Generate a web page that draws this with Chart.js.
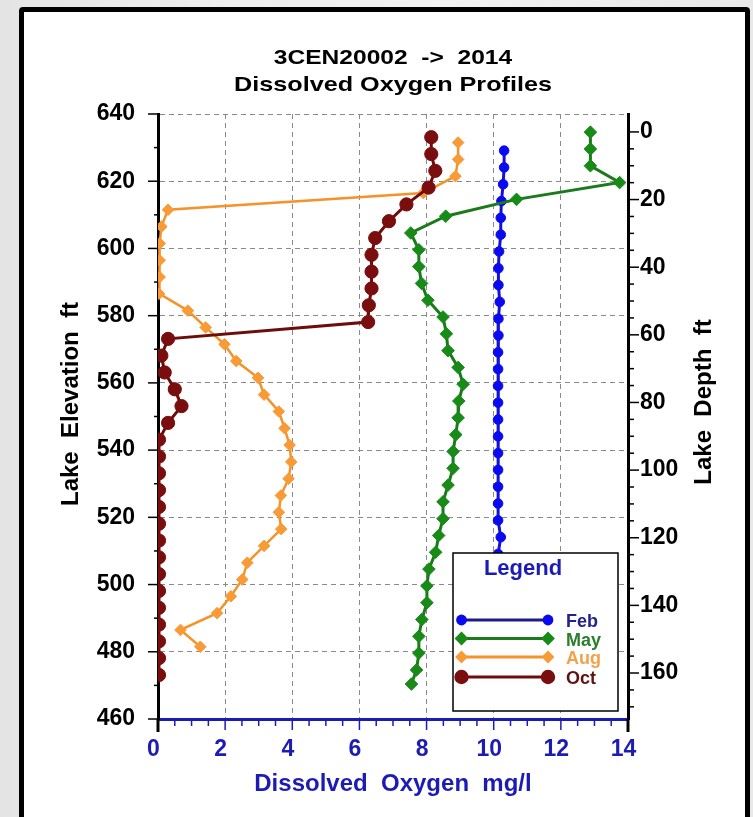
<!DOCTYPE html>
<html>
<head>
<meta charset="utf-8">
<title>Dissolved Oxygen Profiles</title>
<script src="https://cdn.jsdelivr.net/npm/chart.js@4.4.0/dist/chart.umd.min.js"></script>
<style>
  html, body { margin: 0; padding: 0; }
  body { width: 753px; height: 817px; overflow: hidden; position: relative;
         background: linear-gradient(90deg, #e4e4e4, #eeeeee 30%, #f2f2f2 60%, #e8e8e8); }
  #frame { position: absolute; left: 19px; top: 7px; width: 721px; height: 840px;
           border: 5px solid #000; border-radius: 4px; background: #fff; }
  #c { position: absolute; left: 0; top: 0; }
</style>
</head>
<body>
<div id="frame"></div>
<canvas id="c" width="753" height="817"></canvas>
<script>
const FONT = "'Liberation Sans', Arial, sans-serif";
const AXIS_BLUE = "#1c1cb4";

// elevation (ft) and dissolved oxygen (mg/l) for each profile
const febElev = [629.1, 624.1, 619.1, 614.1, 609.1, 604.1, 599.1, 594.1, 589.1, 584.1, 579.1, 574.1,
                 569.1, 564.1, 559.1, 554.1, 549.1, 544.1, 539.1, 534.1, 529.1, 524.1, 519.1, 514.1, 509.1];
const febDO   = [10.31, 10.31, 10.28, 10.23, 10.21, 10.21, 10.16, 10.14, 10.14, 10.18, 10.14, 10.14,
                 10.13, 10.13, 10.13, 10.13, 10.13, 10.13, 10.13, 10.13, 10.13, 10.13, 10.13, 10.21, 10.13];

const mayElev = [634.6, 629.6, 624.6, 619.6, 614.6, 609.6, 604.6, 599.6, 594.6, 589.6, 584.6, 579.6,
                 574.6, 569.6, 564.6, 559.6, 554.6, 549.6, 544.6, 539.6, 534.6, 529.6, 524.6, 519.6,
                 514.6, 509.6, 504.6, 499.6, 494.6, 489.6, 484.6, 479.6, 474.6, 470.4];
const mayDO   = [12.88, 12.88, 12.88, 13.75, 10.68, 8.57, 7.53, 7.77, 7.77, 7.85, 8.04, 8.49,
                 8.59, 8.64, 8.94, 9.09, 8.96, 8.94, 8.87, 8.79, 8.79, 8.64, 8.49, 8.49,
                 8.36, 8.27, 8.07, 8.01, 8.01, 7.86, 7.77, 7.77, 7.70, 7.55];

const augElev = [631.5, 626.5, 621.5, 616.5, 611.5, 606.5, 601.5, 596.5, 591.5, 586.5, 581.5, 576.5,
                 571.5, 566.5, 561.5, 556.5, 551.5, 546.5, 541.5, 536.5, 531.5, 526.5, 521.5, 516.5,
                 511.5, 506.5, 501.5, 496.5, 491.5, 486.5, 481.5];
const augDO   = [8.94, 8.94, 8.86, 7.9, 0.30, 0.10, 0.05, 0.05, 0.05, 0.03, 0.89, 1.42,
                 1.98, 2.33, 2.98, 3.16, 3.60, 3.77, 3.92, 3.97, 3.89, 3.66, 3.60, 3.67,
                 3.16, 2.66, 2.51, 2.17, 1.76, 0.67, 1.26];

const octElev = [633.1, 628.1, 623.1, 618.1, 613.1, 608.1, 603.1, 598.1, 593.1, 588.1, 583.1, 578.1,
                 573.1, 568.1, 563.1, 558.1, 553.1, 548.1, 543.1, 538.1, 533.1, 528.1, 523.1, 518.1,
                 513.1, 508.1, 503.1, 498.1, 493.1, 488.1, 483.1, 478.1, 473.1];
const octDO   = [8.14, 8.14, 8.26, 8.06, 7.40, 6.88, 6.47, 6.36, 6.36, 6.36, 6.28, 6.26,
                 0.30, 0.10, 0.20, 0.50, 0.70, 0.30, 0.03, 0.03, 0.03, 0.03, 0.03, 0.03,
                 0.03, 0.03, 0.03, 0.03, 0.03, 0.03, 0.03, 0.03, 0.03];

const depthLabels = [0, 20, 40, 60, 80, 100, 120, 140, 160];

function pts(xs, ys) {
    return xs.map((v, i) => ({x: v, y: ys[i]}));
}

function line(ctx, x1, y1, x2, y2) {
    ctx.beginPath();
    ctx.moveTo(x1, y1);
    ctx.lineTo(x2, y2);
    ctx.stroke();
}

function marker(ctx, style, r, x, y) {
    ctx.beginPath();
    if (style === 'rectRot') {
        ctx.moveTo(x, y - r); ctx.lineTo(x + r, y); ctx.lineTo(x, y + r); ctx.lineTo(x - r, y);
        ctx.closePath();
    } else {
        ctx.arc(x, y, r, 0, Math.PI * 2);
    }
    ctx.fill();
}

function text(ctx, str, x, y, rot, sx) {
    ctx.save();
    ctx.translate(x, y);
    if (rot) ctx.rotate(rot);
    if (sx) ctx.scale(sx, 1);
    ctx.fillText(str, 0, 0);
    ctx.restore();
}

const decor = {
    id: 'decor',
    afterDatasetsDraw(chart) {
        // legend box sits on top of the plot
        const {ctx, chartArea: a} = chart;
        const bx = a.right - 175, by = a.bottom - 166, bw = 165, bh = 158;
        ctx.save();
        ctx.fillStyle = '#fff';
        ctx.fillRect(bx, by, bw, bh);
        ctx.strokeStyle = '#000';
        ctx.lineWidth = 1.5;
        ctx.strokeRect(bx, by, bw, bh);
        ctx.fillStyle = AXIS_BLUE;
        ctx.font = "bold 22px " + FONT;
        ctx.textAlign = 'center';
        ctx.textBaseline = 'alphabetic';
        ctx.fillText('Legend', bx + 70, by + 22);

        const rows = [67, 85.5, 104, 124];
        const lineColors = ['#1c1c86', '#1b7a1b', '#f5922a', '#6e0c0c'];
        const textColors = ['#22228a', '#2a7d2a', '#f2a24c', '#5e1212'];
        chart.data.datasets.forEach((ds, i) => {
            const y = by + rows[i];
            ctx.strokeStyle = lineColors[i];
            ctx.lineWidth = 3;
            line(ctx, bx + 8.5, y, bx + 95, y);
            ctx.fillStyle = ds.pointBackgroundColor;
            marker(ctx, ds.pointStyle, ds.pointRadius + 0.6, bx + 8.5, y);
            marker(ctx, ds.pointStyle, ds.pointRadius + 0.6, bx + 95, y);
            ctx.fillStyle = textColors[i];
            ctx.font = "bold 18px " + FONT;
            ctx.textAlign = 'left';
            ctx.fillText(ds.label, bx + 113, y + 7);
        });
        ctx.restore();
    },
    afterDraw(chart) {
        const {ctx, chartArea: a, scales} = chart;
        const xs = scales.x, ys = scales.y, ds = scales.depth;
        ctx.save();
        ctx.lineCap = 'butt';

        // axis lines run a little below the x axis
        ctx.strokeStyle = '#000';
        ctx.lineWidth = 3;
        line(ctx, a.left, a.bottom, a.left, a.bottom + 13);
        line(ctx, a.right, a.bottom, a.right, a.bottom + 13);

        // left ticks: major every 20 ft, minor every 10 ft
        ctx.lineWidth = 1.5;
        for (let v = 460; v <= 640; v += 10) {
            const py = ys.getPixelForValue(v);
            line(ctx, a.left - (v % 20 === 0 ? 10 : 4), py, a.left, py);
        }
        // right ticks every 5 ft of depth
        for (let v = 0; v <= 170; v += 5) {
            const py = ds.getPixelForValue(v);
            line(ctx, a.right, py, a.right + (v % 20 === 0 ? 11 : 6), py);
        }
        // bottom ticks every 0.5 mg/l
        ctx.strokeStyle = AXIS_BLUE;
        for (let v = 0.5; v < 14; v += 0.5) {
            const px = xs.getPixelForValue(v);
            line(ctx, px, a.bottom, px, a.bottom + (v % 2 === 0 ? 11 : 7));
        }

        // titles
        const cx = (a.left + a.right) / 2;
        ctx.textAlign = 'center';
        ctx.textBaseline = 'alphabetic';
        ctx.fillStyle = '#000';
        ctx.font = "bold 21px " + FONT;
        text(ctx, '3CEN20002  ->  2014', cx, 64, 0, 1.17);
        text(ctx, 'Dissolved Oxygen Profiles', cx, 91, 0, 1.2);

        ctx.font = "bold 24px " + FONT;
        text(ctx, 'Lake  Elevation  ft', 78, 404, -Math.PI / 2);
        text(ctx, 'Lake  Depth  ft', 711, 402, -Math.PI / 2);
        ctx.fillStyle = AXIS_BLUE;
        text(ctx, 'Dissolved  Oxygen  mg/l', cx, 791, 0);
        ctx.restore();
    }
};

const tickFont = {family: FONT, size: 23, weight: 'bold'};
const gridStyle = {color: '#8a8a8a', lineWidth: 1, drawTicks: false};

new Chart(document.getElementById('c'), {
    type: 'scatter',
    data: {
        datasets: [
            {label: 'Feb', data: pts(febDO, febElev), showLine: true, order: 4,
             borderColor: '#1414d0', borderWidth: 3, pointStyle: 'circle', pointRadius: 4.8,
             pointBackgroundColor: '#0a0af0', pointBorderColor: '#0a0af0', pointBorderWidth: 1},
            {label: 'May', data: pts(mayDO, mayElev), showLine: true, order: 3,
             borderColor: '#1b7a1b', borderWidth: 3, pointStyle: 'rectRot', pointRadius: 6.3,
             pointBackgroundColor: '#178a17', pointBorderColor: '#178a17', pointBorderWidth: 1},
            {label: 'Aug', data: pts(augDO, augElev), showLine: true, order: 2,
             borderColor: '#f5922a', borderWidth: 2.5, pointStyle: 'rectRot', pointRadius: 5.8,
             pointBackgroundColor: '#f89a35', pointBorderColor: '#f89a35', pointBorderWidth: 1},
            {label: 'Oct', data: pts(octDO, octElev), showLine: true, order: 1,
             borderColor: '#6e0c0c', borderWidth: 3, pointStyle: 'circle', pointRadius: 6.6,
             pointBackgroundColor: '#7a0d0d', pointBorderColor: '#7a0d0d', pointBorderWidth: 1}
        ]
    },
    options: {
        responsive: false,
        animation: false,
        devicePixelRatio: 1,
        layout: {padding: {top: 114, left: 0, right: 0, bottom: 0}},
        plugins: {legend: {display: false}, title: {display: false}, tooltip: {enabled: false}},
        scales: {
            x: {
                type: 'linear', position: 'bottom', min: 0, max: 14,
                ticks: {stepSize: 2, font: tickFont, color: AXIS_BLUE, padding: 17, labelOffset: -4.5, maxRotation: 0},
                grid: gridStyle,
                border: {color: AXIS_BLUE, width: 3, dash: [5, 4]},
                afterFit: s => { s.height = 98; }
            },
            y: {
                type: 'linear', position: 'left', min: 460, max: 640,
                ticks: {stepSize: 20, font: tickFont, color: '#000', padding: 23},
                grid: gridStyle,
                border: {color: '#000', width: 3, dash: [5, 4]},
                afterFit: s => { s.width = 158; }
            },
            depth: {
                type: 'linear', position: 'right', reverse: true, min: -5.3, max: 173.6,
                afterBuildTicks: s => { s.ticks = depthLabels.map(v => ({value: v})); },
                ticks: {font: tickFont, color: '#000', padding: 12, autoSkip: false},
                grid: {drawOnChartArea: false, drawTicks: false},
                border: {color: '#000', width: 3},
                afterFit: s => { s.width = 125; }
            }
        }
    },
    plugins: [decor]
});
</script>
</body>
</html>
